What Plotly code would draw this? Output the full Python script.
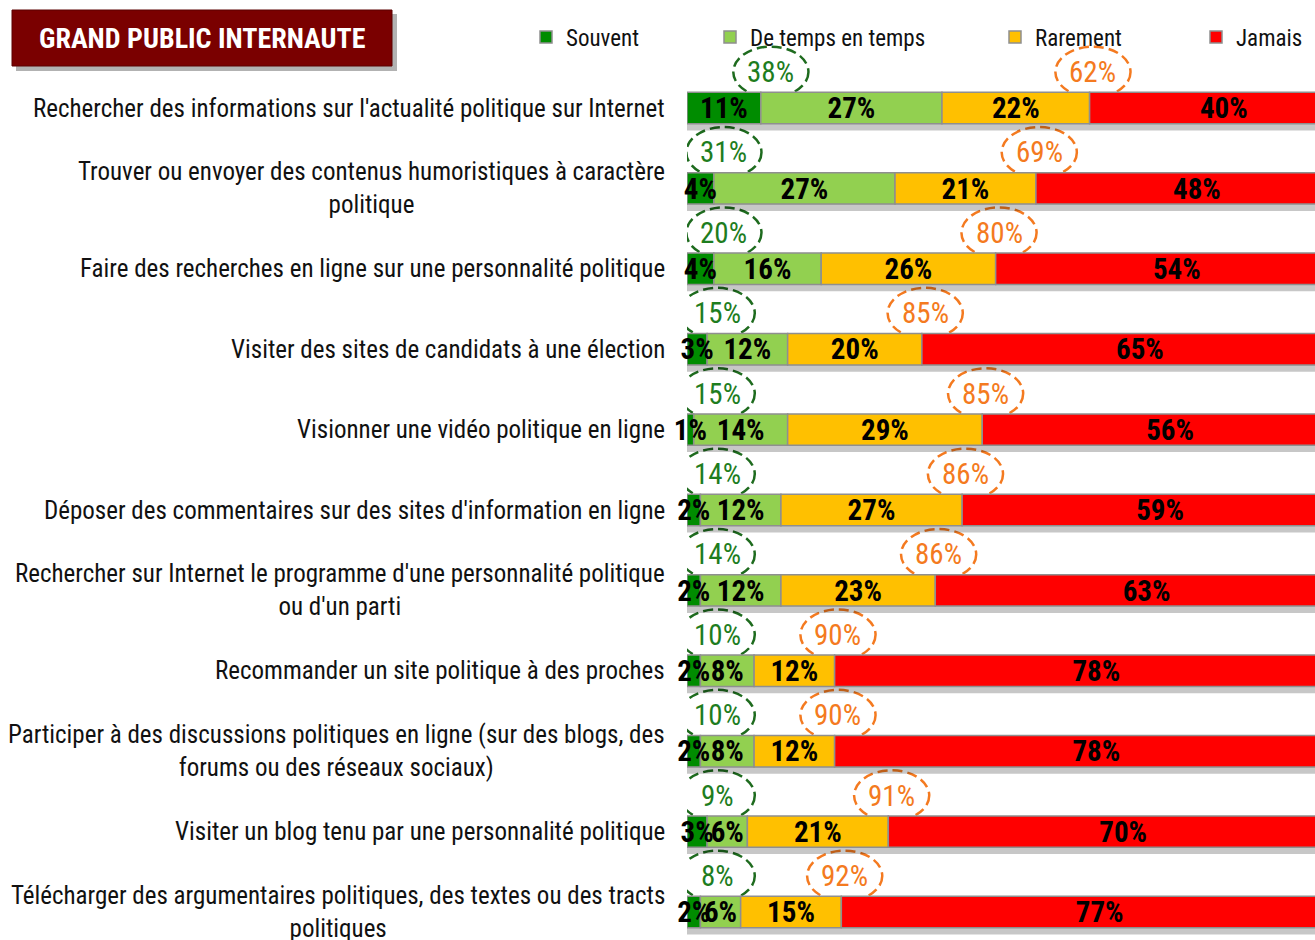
import plotly.graph_objects as go

categories = [
    "Rechercher des informations sur l'actualité politique sur Internet",
    "Trouver ou envoyer des contenus humoristiques à caractère<br>politique",
    "Faire des recherches en ligne sur une personnalité politique",
    "Visiter des sites de candidats à une élection",
    "Visionner une vidéo politique en ligne",
    "Déposer des commentaires sur des sites d'information en ligne",
    "Rechercher sur Internet le programme d'une personnalité politique<br>ou d'un parti",
    "Recommander un site politique à des proches",
    "Participer à des discussions politiques en ligne (sur des blogs, des<br>forums ou des réseaux sociaux)",
    "Visiter un blog tenu par une personnalité politique",
    "Télécharger des argumentaires politiques, des textes ou des tracts<br>politiques",
]
souvent = [11, 4, 4, 3, 1, 2, 2, 2, 2, 3, 2]
de_temps = [27, 27, 16, 12, 14, 12, 12, 8, 8, 6, 6]
rarement = [22, 21, 26, 20, 29, 27, 23, 12, 12, 21, 15]
jamais = [40, 48, 54, 65, 56, 59, 63, 78, 78, 70, 77]
total_green = [38, 31, 20, 15, 15, 14, 14, 10, 10, 9, 8]
total_orange = [62, 69, 80, 85, 85, 86, 86, 90, 90, 91, 92]
series_names = ["Souvent", "De temps en temps", "Rarement", "Jamais"]
series_values = [souvent, de_temps, rarement, jamais]
series_colors = ["#008C00", "#92D050", "#FFC000", "#FF0000"]

FONT = "Roboto Condensed, Open Sans Condensed, Liberation Sans Narrow, sans-serif"
W, H = 1315, 940
ML, MR, MT, MB = 687, 0, 40, 0
PW, PH = W - ML - MR, H - MT - MB
BARW = 0.39
ROW = 80.4
Y_TOP = (MT - 108) / ROW
Y_BOT = (H - MB - 108) / ROW
TXT_SHIFT = 3 / ROW


def px_x(p):
    return (p - ML) / PW


def px_y(p):
    return (H - MB - p) / PH


fig = go.Figure()

# drop shadow under each bar
totals = [a + b + c + d for a, b, c, d in zip(*series_values)]
fig.add_trace(go.Bar(
    y=categories, x=totals, base=[0] * len(categories), orientation="h",
    width=BARW, offset=-BARW / 2 + 0.085,
    marker=dict(color="rgba(0,0,0,0.22)", line=dict(width=0)),
    showlegend=False, hoverinfo="skip",
))

legend_text_start = [567, 751, 1036, 1237]
cum = [0] * len(categories)
label_x, label_y, label_t = [], [], []
for k, (name, vals, col) in enumerate(zip(series_names, series_values, series_colors)):
    lg = "legend" if k == 0 else f"legend{k + 1}"
    fig.add_trace(go.Bar(
        y=categories, x=vals, base=list(cum), orientation="h", name=name,
        width=BARW, legend=lg,
        marker=dict(color=col, line=dict(color="#8f8f8f", width=1.5)),
    ))
    for c, v, cat in zip(cum, vals, categories):
        label_x.append(c + v / 2)
        label_y.append(cat)
        label_t.append(f"{v}%")
    cum = [c + v for c, v in zip(cum, vals)]
    fig.update_layout({lg: dict(
        orientation="h", x=px_x(legend_text_start[k] - 41), y=px_y(37),
        xanchor="left", yanchor="middle",
        font=dict(family=FONT, size=23, color="#111111"),
        bgcolor="rgba(0,0,0,0)", itemclick=False, itemdoubleclick=False)})

# segment value labels (on a twin axis nudged a few pixels down)
fig.add_trace(go.Scatter(
    x=label_x, y=label_y, text=label_t, mode="text", textposition="middle center",
    textfont=dict(family=FONT, size=29, color="#000000", weight="bold"),
    cliponaxis=False, showlegend=False, hoverinfo="skip", yaxis="y2",
))

# dashed ellipses with totals
EY = 0.448   # vertical offset of ellipses above bar centre (category units)
EH = 0.63
EWX = 11.2
orange_end = [a + b + c for a, b, c in zip(souvent, de_temps, rarement)]
for i, cat in enumerate(categories):
    gx = max(souvent[i], 3) + 1.5
    ox = orange_end[i] + 0.5
    for cx, lcol, tcol, txt in ((gx, "#1E6B1E", "#1E7D1E", total_green[i]),
                                (ox, "#F47A20", "#F47A20", total_orange[i])):
        fig.add_shape(type="circle", xref="x", yref="y",
                      x0=cx - EWX / 2, x1=cx + EWX / 2,
                      y0=i - EY - EH / 2, y1=i - EY + EH / 2,
                      line=dict(color=lcol, width=2.5, dash="10px,5px"),
                      fillcolor="rgba(255,255,255,0)", layer="below")
        fig.add_annotation(x=cx, y=i - EY, xref="x", yref="y", text=f"{txt}%",
                           showarrow=False, xanchor="center", yanchor="middle",
                           font=dict(family=FONT, size=29, color=tcol))

# category labels (centred multi-line)
for cat in categories:
    fig.add_annotation(x=0, y=cat, xref="x", yref="y", text=cat, showarrow=False,
                       xanchor="right", yanchor="middle", xshift=-20, align="center",
                       font=dict(family=FONT, size=25, color="#111111"))

# title box
fig.add_shape(type="rect", xref="paper", yref="paper",
              x0=px_x(16), x1=px_x(397), y0=px_y(71), y1=px_y(14),
              fillcolor="rgba(0,0,0,0.3)", line=dict(width=0), layer="above")
fig.add_shape(type="rect", xref="paper", yref="paper",
              x0=px_x(12), x1=px_x(392), y0=px_y(66), y1=px_y(10),
              fillcolor="#7A0000", line=dict(color="#5a0000", width=1), layer="above")
fig.add_annotation(xref="paper", yref="paper", x=px_x(202), y=px_y(38),
                   xanchor="center", yanchor="middle",
                   text="GRAND PUBLIC INTERNAUTE", showarrow=False,
                   font=dict(family=FONT, size=28, color="#ffffff", weight="bold"))

yax_common = dict(showticklabels=False, showgrid=False, zeroline=False, showline=False,
                  ticks="", fixedrange=True, categoryorder="array", categoryarray=categories)
fig.update_layout(
    width=W, height=H,
    margin=dict(l=ML, r=MR, t=MT, b=MB, pad=0),
    barmode="overlay",
    plot_bgcolor="#ffffff", paper_bgcolor="#ffffff",
    font=dict(family=FONT, color="#111111"),
    showlegend=True,
    xaxis=dict(range=[0, PW / 6.71], visible=False, fixedrange=True),
    yaxis=dict(range=[Y_BOT, Y_TOP], **yax_common),
    yaxis2=dict(range=[Y_BOT - TXT_SHIFT, Y_TOP - TXT_SHIFT], overlaying="y",
                visible=False, **yax_common),
)

fig.write_html("out.html", config={"displayModeBar": False},
               post_script="document.body.style.margin='0px';")
